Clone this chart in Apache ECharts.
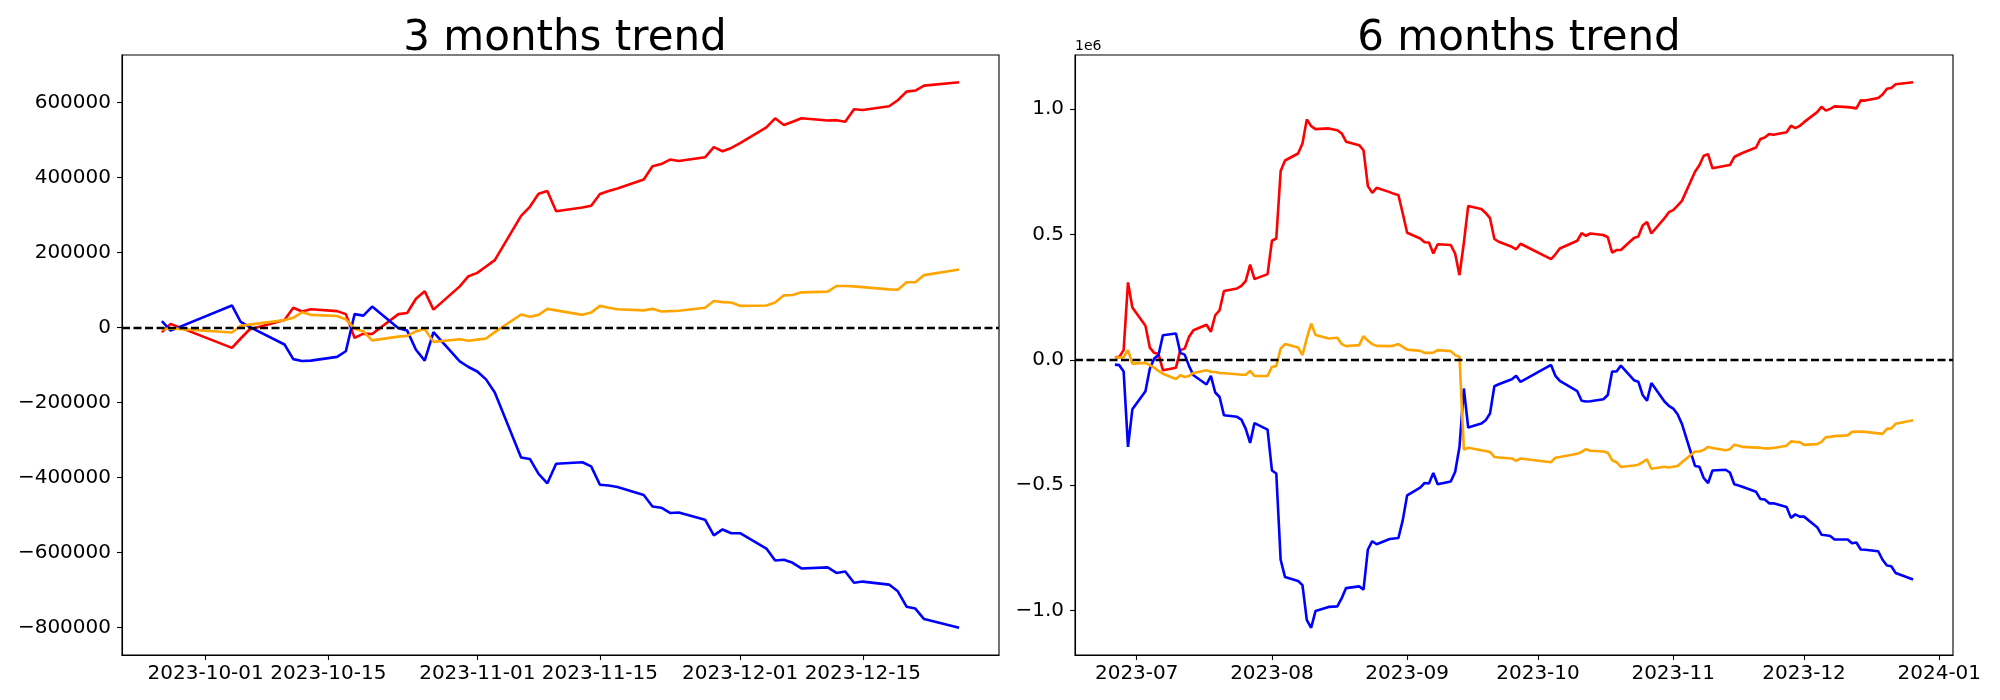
<!DOCTYPE html>
<html><head><meta charset="utf-8">
<script src="https://cdn.jsdelivr.net/npm/echarts@6/dist/echarts.min.js"></script>
<style>html,body{margin:0;padding:0;background:#fff}#c{width:2000px;height:700px}</style>
</head><body><div id="c"></div>
<script>
// ---------- 3 months data ----------
const dates3m = [
'2023-09-26','2023-09-27',
'2023-10-04','2023-10-05','2023-10-06','2023-10-10','2023-10-11','2023-10-12','2023-10-13','2023-10-16','2023-10-17','2023-10-18','2023-10-19','2023-10-20','2023-10-23','2023-10-24','2023-10-25','2023-10-26','2023-10-27','2023-10-30','2023-10-31',
'2023-11-01','2023-11-02','2023-11-03','2023-11-06','2023-11-07','2023-11-08','2023-11-09','2023-11-10','2023-11-13','2023-11-14','2023-11-15','2023-11-16','2023-11-17','2023-11-20','2023-11-21','2023-11-22','2023-11-23','2023-11-24','2023-11-27','2023-11-28','2023-11-29','2023-11-30',
'2023-12-01','2023-12-04','2023-12-05','2023-12-06','2023-12-07','2023-12-08','2023-12-11','2023-12-12','2023-12-13','2023-12-14','2023-12-15','2023-12-18','2023-12-19','2023-12-20','2023-12-21','2023-12-22','2023-12-26'];
const red3m = [
-12000,10000,
-54000,-29000,-5000,20000,53000,43000,49000,44000,36000,-27500,-16000,-17000,36000,39000,77000,97000,48000,110000,137000,
146000,163000,180000,298000,322000,357000,364000,310000,320000,325000,356000,364000,371000,395000,430000,436000,448000,444000,454000,481000,470000,479000,
492000,534000,558000,540000,549000,558000,552000,553000,549000,582000,580000,590000,606000,629000,632000,645000,654000];
const blue3m = [
17000,-8000,
59000,15000,2000,-45000,-84000,-89000,-88000,-78000,-63000,36000,32000,56000,-2000,-8000,-59000,-88000,-12000,-90000,-105000,
-117000,-138000,-173000,-346000,-350000,-390000,-415000,-363000,-359000,-370000,-419000,-421000,-425000,-446000,-477000,-480000,-494000,-493000,-512000,-554000,-538000,-548000,
-548000,-589000,-621000,-619000,-627000,-642000,-639000,-654000,-650000,-680000,-677000,-685000,-703000,-744000,-749000,-777000,-800000];
const orange3m = [
-5000,-2000,
-13000,5000,8000,20000,26000,41000,34000,31000,22000,-3000,-10000,-34000,-24000,-22000,-10000,-4000,-38000,-31000,-35000,
-32000,-29000,-12000,35000,29000,34000,50000,46000,34000,40000,58000,53000,49000,46000,50000,43000,44000,45000,53000,71000,68000,67000,
58000,59000,67000,86000,87000,94000,96000,111000,111000,110000,108000,102000,101000,121000,121000,140000,155000];
const xTicks3m = ['2023-10-01','2023-10-15','2023-11-01','2023-11-15','2023-12-01','2023-12-15'];
const yTicks3m = [-800000,-600000,-400000,-200000,0,200000,400000,600000];

// ---------- 6 months data ----------
const dates6m = [
'2023-06-26','2023-06-27','2023-06-28','2023-06-29','2023-06-30',
'2023-07-03','2023-07-04','2023-07-05','2023-07-06','2023-07-07','2023-07-10','2023-07-11','2023-07-12','2023-07-13','2023-07-14','2023-07-17','2023-07-18','2023-07-19','2023-07-20','2023-07-21','2023-07-24','2023-07-25','2023-07-26','2023-07-27','2023-07-28','2023-07-31',
'2023-08-01','2023-08-02','2023-08-03','2023-08-04','2023-08-07','2023-08-08','2023-08-09','2023-08-10','2023-08-11','2023-08-14','2023-08-16','2023-08-17','2023-08-18','2023-08-21','2023-08-22','2023-08-23','2023-08-24','2023-08-25','2023-08-28','2023-08-29','2023-08-30','2023-08-31',
'2023-09-01','2023-09-04','2023-09-05','2023-09-06','2023-09-07','2023-09-08','2023-09-11','2023-09-12','2023-09-13','2023-09-14','2023-09-15','2023-09-18','2023-09-19','2023-09-20','2023-09-21','2023-09-22','2023-09-25','2023-09-26','2023-09-27',
'2023-10-04','2023-10-05','2023-10-06','2023-10-10','2023-10-11','2023-10-12','2023-10-13','2023-10-16','2023-10-17','2023-10-18','2023-10-19','2023-10-20','2023-10-23','2023-10-24','2023-10-25','2023-10-26','2023-10-27','2023-10-30','2023-10-31',
'2023-11-01','2023-11-02','2023-11-03','2023-11-06','2023-11-07','2023-11-08','2023-11-09','2023-11-10','2023-11-13','2023-11-14','2023-11-15','2023-11-16','2023-11-17','2023-11-20','2023-11-21','2023-11-22','2023-11-23','2023-11-24','2023-11-27','2023-11-28','2023-11-29','2023-11-30',
'2023-12-01','2023-12-04','2023-12-05','2023-12-06','2023-12-07','2023-12-08','2023-12-11','2023-12-12','2023-12-13','2023-12-14','2023-12-15','2023-12-18','2023-12-19','2023-12-20','2023-12-21','2023-12-22','2023-12-26'];
const red6m = [
10000,12000,39000,309000,209000,
136000,49000,28000,23000,-41000,-31000,39000,45000,92000,118000,140000,112000,178000,198000,275000,285000,295000,315000,380000,322000,342000,
475000,484000,753000,795000,823000,863000,959000,932000,920000,923000,916000,903000,870000,856000,836000,693000,666000,686000,669000,662000,657000,584000,
507000,484000,469000,468000,424000,461000,458000,424000,338000,466000,614000,602000,586000,565000,482000,471000,451000,441000,463000,
402000,421000,444000,475000,505000,495000,504000,498000,489000,428000,438000,438000,486000,492000,536000,550000,504000,565000,589000,
597000,615000,634000,750000,776000,814000,820000,764000,774000,777000,809000,818000,826000,847000,881000,887000,901000,898000,908000,934000,924000,933000,
948000,988000,1009000,994000,1001000,1011000,1008000,1006000,1003000,1035000,1034000,1044000,1058000,1081000,1084000,1099000,1107000];
const blue6m = [
-19000,-21000,-46000,-347000,-197000,
-125000,-35000,5000,19000,98000,105000,28000,21000,-25000,-61000,-98000,-64000,-130000,-148000,-221000,-227000,-238000,-275000,-331000,-252000,-278000,
-441000,-453000,-797000,-866000,-882000,-898000,-1038000,-1068000,-1001000,-985000,-983000,-950000,-910000,-903000,-916000,-756000,-723000,-735000,-714000,-712000,-710000,-639000,
-540000,-509000,-491000,-493000,-451000,-496000,-485000,-447000,-347000,-114000,-270000,-254000,-241000,-214000,-105000,-97000,-77000,-63000,-88000,
-20000,-64000,-84000,-125000,-163000,-166000,-165000,-157000,-140000,-46000,-46000,-23000,-81000,-87000,-140000,-163000,-92000,-166000,-183000,
-194000,-217000,-255000,-423000,-426000,-471000,-491000,-441000,-438000,-449000,-496000,-501000,-507000,-526000,-555000,-557000,-572000,-572000,-587000,-630000,-616000,-625000,
-625000,-667000,-697000,-699000,-702000,-716000,-716000,-731000,-728000,-756000,-757000,-763000,-797000,-820000,-823000,-850000,-876000];
const orange6m = [
9000,9000,11000,39000,-15000,
-12000,-21000,-31000,-44000,-55000,-76000,-61000,-68000,-64000,-52000,-41000,-47000,-48000,-52000,-53000,-57000,-59000,-59000,-44000,-64000,-64000,
-28000,-24000,45000,63000,49000,19000,87000,145000,99000,85000,88000,63000,55000,59000,95000,76000,63000,56000,55000,57000,63000,52000,
41000,36000,28000,28000,29000,39000,35000,19000,13000,-358000,-350000,-360000,-363000,-367000,-387000,-389000,-393000,-403000,-393000,
-408000,-390000,-387000,-374000,-367000,-356000,-362000,-365000,-370000,-400000,-408000,-427000,-421000,-418000,-408000,-397000,-434000,-426000,-429000,
-426000,-423000,-408000,-365000,-365000,-359000,-347000,-351000,-360000,-356000,-338000,-342000,-347000,-350000,-350000,-353000,-353000,-351000,-342000,-325000,-327000,-328000,
-339000,-336000,-327000,-308000,-307000,-304000,-301000,-287000,-286000,-286000,-287000,-293000,-295000,-275000,-273000,-255000,-241000];
const xTicks6m = ['2023-07','2023-08','2023-09','2023-10','2023-11','2023-12','2024-01'];
const yTicks6m = [-1000000,-500000,0,500000,1000000];

// ---------- helpers ----------
function ts(s){ const p = s.split('-').map(Number); return Date.UTC(p[0], p[1]-1, p[2] || 1); }
function pairs(dates, vals){ return dates.map((d,i)=>[ts(d), vals[i]]); }
function xExt(dates){ const a=ts(dates[0]), b=ts(dates[dates.length-1]), m=(b-a)*0.05; return [a-m, b+m]; }
function yExt(arrs){ let lo=Infinity, hi=-Infinity; arrs.forEach(a=>a.forEach(v=>{ if(v<lo)lo=v; if(v>hi)hi=v; })); const m=(hi-lo)*0.05; return [lo-m, hi+m]; }
function minus(s){ return s.charAt(0)==='-' ? '\u2212'+s.slice(1) : s; }

const FONT = 'DejaVu Sans';
const BLACK = '#000';
const x3 = xExt(dates3m), x6 = xExt(dates6m);
const y3 = yExt([red3m, blue3m, orange3m]), y6 = yExt([red6m, blue6m, orange6m]);
const xt3 = xTicks3m.map(ts), xt6 = xTicks6m.map(ts);

function xAxis(gi, ext, ticks, fmt){
  return {type:'value', gridIndex:gi, min:ext[0], max:ext[1],
    axisLine:{show:true, onZero:false, lineStyle:{color:BLACK, width:1.1}},
    axisTick:{show:true, length:5, lineStyle:{color:BLACK, width:1.1}, customValues:ticks},
    axisLabel:{customValues:ticks, formatter:fmt, color:BLACK, fontSize:20, fontFamily:FONT, margin:9},
    splitLine:{show:false}};
}
function yAxis(gi, ext, ticks, fmt, extra){
  return Object.assign({type:'value', gridIndex:gi, min:ext[0], max:ext[1],
    axisLine:{show:true, onZero:false, lineStyle:{color:BLACK, width:1.1}},
    axisTick:{show:true, length:5, lineStyle:{color:BLACK, width:1.1}, customValues:ticks},
    axisLabel:{customValues:ticks, formatter:fmt, color:BLACK, fontSize:20, fontFamily:FONT, margin:11},
    splitLine:{show:false}}, extra||{});
}
function line(gi, data, color, zeroLine){
  const s = {type:'line', xAxisIndex:gi, yAxisIndex:gi, data:data, showSymbol:false, symbol:'none',
    lineStyle:{color:color, width:2.6}, itemStyle:{color:color}, animation:false, z:2};
  if (zeroLine) s.markLine = {symbol:'none', silent:true, animation:false, label:{show:false},
    lineStyle:{color:BLACK, width:2.3, type:[8,3.5]}, data:[{yAxis:0}]};
  return s;
}

const chart = echarts.init(document.getElementById('c'), null, {renderer:'canvas'});
chart.setOption({
  backgroundColor:'#fff',
  animation:false,
  title:[
    {text:'3 months trend', left:560, top:13, textAlign:'center', textStyle:{fontSize:42, fontWeight:'normal', fontFamily:FONT, color:BLACK}},
    {text:'6 months trend', left:1514, top:13, textAlign:'center', textStyle:{fontSize:42, fontWeight:'normal', fontFamily:FONT, color:BLACK}}
  ],
  grid:[
    {left:122, top:55, width:877, height:600, show:true, borderColor:BLACK, borderWidth:1.1, backgroundColor:'transparent'},
    {left:1075, top:55, width:878, height:600, show:true, borderColor:BLACK, borderWidth:1.1, backgroundColor:'transparent'}
  ],
  xAxis:[
    xAxis(0, x3, xt3, v => new Date(v).toISOString().slice(0,10)),
    xAxis(1, x6, xt6, v => new Date(v).toISOString().slice(0,7))
  ],
  yAxis:[
    yAxis(0, y3, yTicks3m, v => minus(String(Math.round(v)))),
    yAxis(1, y6, yTicks6m, v => minus((v/1e6).toFixed(1)),
      {name:'1e6', nameLocation:'end', nameGap:2,
       nameTextStyle:{fontSize:14, fontFamily:FONT, color:BLACK, align:'left', verticalAlign:'bottom'}})
  ],
  series:[
    line(0, pairs(dates3m, red3m), '#ff0000'),
    line(0, pairs(dates3m, blue3m), '#0000ff'),
    line(0, pairs(dates3m, orange3m), '#ffa500', true),
    line(1, pairs(dates6m, red6m), '#ff0000'),
    line(1, pairs(dates6m, blue6m), '#0000ff'),
    line(1, pairs(dates6m, orange6m), '#ffa500', true)
  ]
});
</script>
</body></html>
